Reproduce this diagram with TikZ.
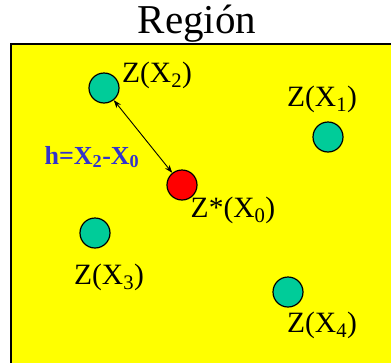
\documentclass[tikz,border=0pt]{standalone}
\usepackage{fontspec}
\setmainfont{Liberation Serif}
\usetikzlibrary{arrows.meta}

\definecolor{regionyellow}{RGB}{255,255,0}
\definecolor{pointteal}{RGB}{0,204,153}
\definecolor{hblue}{RGB}{51,51,204}

\begin{document}
\begin{tikzpicture}[
    x=1pt, y=-1pt,
    sample/.style={circle, draw=black, line width=1.2pt, fill=pointteal, minimum size=30pt, inner sep=0pt},
    target/.style={sample, fill=red},
    zlabel/.style={inner sep=0pt, font=\fontsize{29.5}{29.5}\selectfont},
    arrow/.style={{Stealth[length=2.8mm,width=2mm]}-{Stealth[length=2.8mm,width=2mm]}, line width=0.9pt}
]
\useasboundingbox (0,0) rectangle (391,362);
\fill[white] (0,0) rectangle (391,362);
% region
\draw[line width=1.5pt, fill=regionyellow] (11,44) rectangle (400,372);
\node[inner sep=0pt, font=\fontsize{41}{41}\selectfont] (title) at (197,24) {Región};
% sample points
\node[sample] (x2) at (104,88) {};
\node[sample] (x1) at (328,137) {};
\node[sample] (x3) at (95,233) {};
\node[sample] (x4) at (288,292) {};
\node[target] (x0) at (182,185) {};
% labels
\node[zlabel] (lx2) at (157,75) {Z(X\textsubscript{2})};
\node[zlabel] (lx1) at (322,99) {Z(X\textsubscript{1})};
\node[zlabel] (lx0) at (233,210) {Z*(X\textsubscript{0})};
\node[zlabel] (lx3) at (109,277) {Z(X\textsubscript{3})};
\node[zlabel] (lx4) at (322,325) {Z(X\textsubscript{4})};
\node[inner sep=0pt, text=hblue, font=\fontsize{26}{26}\selectfont\bfseries] (h) at (92,157) {h=X\textsubscript{2}-X\textsubscript{0}};
\draw[arrow] (x2) -- (x0);
\end{tikzpicture}
\end{document}
